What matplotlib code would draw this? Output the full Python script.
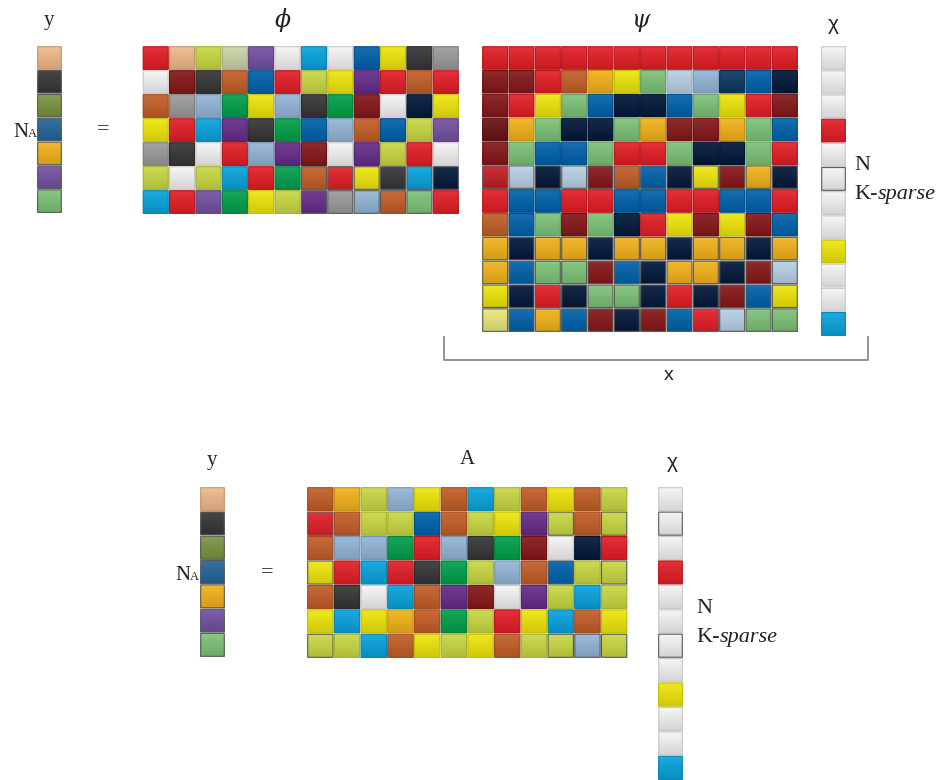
import matplotlib.pyplot as plt
import numpy as np
from matplotlib.colors import to_rgb
from matplotlib.collections import PolyCollection

# colour codes used in the cell tables below
COLORS = {
    'R': '#E41E26', 'r': '#C41E25', 'W': '#F4F4F4', 'K': '#363636',
    'C': '#08A3DD', 'P': '#7451A1', 'Q': '#652C8A', 'L': '#C9D842',
    'Y': '#EFE60A', 'O': '#F2B21A', 'B': '#C35E27', 'D': '#861719',
    'd': '#6A1212', 'N': '#02183A', 'U': '#0062AB', 'S': '#93B6D8',
    'Z': '#B8D1E6', 'X': '#0B3A60', 'M': '#E9E97A', 'G': '#00A04A',
    'H': '#7DC377', 'A': '#9B9B9B', 'F': '#EFB98A', 'E': '#C8D4A6',
    'T': '#7A9441', 'V': '#23659A',
}

Y_CELLS = ['F', 'K', 'T', 'V', 'O', 'P', 'H']

PHI_ROWS = [
    'RFLEPWCWUYKA',
    'WDKBURLYQRBR',
    'BASGYSKGDWNY',
    'YRCQKGUSBULP',
    'AKWRSQDWQLRW',
    'LWLCRGBRYKCN',
    'CRPGYLQASBHR',
]

PSI_ROWS = [
    'RRRRRRRRRRRR',
    'DDRBOYHZSXUN',
    'DRYHUNNUHYRD',
    'dOHNNHODDOHU',
    'DHUUHRRHNNHR',
    'rZNZDBUNYDON',
    'RUURRUURRUUR',
    'BUHDHNRYDYDU',
    'ONOONOONOONO',
    'OUHHDUNOONDZ',
    'YNRNHHNRNDUY',
    'MUOUDNDURZHH',
]

CHI_TOP = ['W', 'W', 'W', 'R', 'W', 'W', 'W', 'W', 'Y', 'W', 'W', 'C']

A_ROWS = [
    'BOLSYBCLBYBL',
    'RBLLUBLYQLBL',
    'BSSGRSKGDWNR',
    'YRCRKGLSBULL',
    'BKWCBQDWQLCL',
    'YCYOBGLRYCBY',
    'LLCBYLYBLLSL',
]

CHI_BOTTOM = ['W', 'W', 'W', 'R', 'W', 'W', 'W', 'W', 'Y', 'W', 'W', 'C']

# cells drawn with a dark grey outline
PHI_DARK = {(5, j) for j in range(6, 12)} | {(6, j) for j in range(6, 11)}
PSI_DARK = {(i, j) for i in (5, 8, 9, 10, 11) for j in range(12)}
A_DARK = {(1, 0), (1, 9), (1, 11), (3, 0), (3, 9), (3, 11),
          (6, 0), (6, 9), (6, 10), (6, 11)}
Y_DARK = {(i, 0) for i in range(1, 7)}

SERIF = 'Liberation Serif'
SANS = 'Liberation Sans'
INK = '#222222'
BANDS = 8


def _draw_matrix(ax, rows, x0, y0, x1, y1, dark=()):
    n_rows, n_cols = len(rows), len(rows[0])
    cw = (x1 - x0) / n_cols
    ch = (y1 - y0) / n_rows
    g = 1.4
    band_polys, band_colors = [], []
    edge_polys, edge_colors = [], []
    for i, row in enumerate(rows):
        for j, code in enumerate(row):
            c = np.array(to_rgb(COLORS[code]))
            top = c + (1 - c) * 0.08
            bottom = c * 0.87
            left = x0 + j * cw + g / 2
            right = x0 + (j + 1) * cw - g / 2
            ya = y0 + i * ch + g / 2
            yb = y0 + (i + 1) * ch - g / 2
            starts = np.linspace(ya, yb, BANDS + 1)[:-1]
            # each band runs to the cell bottom, later ones cover the lower part
            for k, s in enumerate(starts):
                t = (k + 0.5) / BANDS
                band_polys.append([(left, s), (right, s), (right, yb), (left, yb)])
                band_colors.append(tuple(top * (1 - t) + bottom * t))
            edge_polys.append([(left, ya), (right, ya), (right, yb), (left, yb)])
            edge_colors.append('#5a5a5a' if (i, j) in dark else tuple(c * 0.82))
    bands = PolyCollection(band_polys, facecolors=band_colors,
                           edgecolors='none', linewidths=0, zorder=1)
    outlines = PolyCollection(edge_polys, facecolors='none',
                              edgecolors=edge_colors, linewidths=0.8, zorder=2)
    bands.set_snap(False)
    outlines.set_snap(False)
    ax.add_collection(bands)
    ax.add_collection(outlines)


def _label_na(ax, x, y):
    ax.text(x, y, 'N', ha='right', va='baseline', fontsize=15, family=SERIF, color=INK)
    ax.text(x, y, 'A', ha='left', va='baseline', fontsize=9, family=SERIF, color=INK)


def _label_sparse(fig, ax, x, y):
    t = ax.text(x, y, 'K-', ha='left', va='baseline', fontsize=16, family=SERIF, color=INK)
    fig.canvas.draw()
    bb = t.get_window_extent(renderer=fig.canvas.get_renderer())
    x_end = ax.transData.inverted().transform((bb.x1, bb.y0))[0]
    ax.text(x_end + 0.5, y, 'sparse', ha='left', va='baseline', fontsize=16,
            family=SERIF, style='italic', color=INK)


if __name__ == '__main__':
    fig = plt.figure(figsize=(9.43, 7.80), dpi=100)
    ax = fig.add_axes([0, 0, 1, 1])
    ax.set_xlim(0, 943)
    ax.set_ylim(780, 0)
    ax.axis('off')

    # top equation: y = phi psi chi
    _draw_matrix(ax, [[c] for c in Y_CELLS], 37, 46, 62, 213, Y_DARK)
    _draw_matrix(ax, PHI_ROWS, 142.5, 46, 459, 214, PHI_DARK)
    _draw_matrix(ax, PSI_ROWS, 482, 46, 798, 332, PSI_DARK)
    _draw_matrix(ax, [[c] for c in CHI_TOP], 821, 46, 846, 336, {(5, 0)})

    ax.plot([444, 444, 868, 868], [337, 360, 360, 337], color='#8a8a8a', lw=1.3)

    ax.text(49, 25, 'y', ha='center', va='baseline', fontsize=15, family=SERIF, color=INK)
    ax.text(283, 20, 'ϕ', ha='center', va='center', fontsize=17,
            family=['DejaVu Serif'], style='italic', color=INK)
    ax.text(641, 20, 'ψ', ha='center', va='center', fontsize=17,
            family=['DejaVu Serif'], style='italic', color=INK)
    ax.text(833, 24, 'χ', ha='center', va='center', fontsize=15, family=SANS, color=INK)
    ax.text(669, 376, 'x', ha='center', va='center', fontsize=14, family=SANS, color=INK)
    _label_na(ax, 28, 137)
    ax.text(103, 130, '=', ha='center', va='center', fontsize=16, family=SERIF, color=INK)
    ax.text(854, 170, 'N', ha='left', va='baseline', fontsize=16, family=SERIF, color=INK)
    _label_sparse(fig, ax, 854, 199)

    # bottom equation: y = A chi
    _draw_matrix(ax, [[c] for c in Y_CELLS], 200, 487, 225, 657, Y_DARK)
    _draw_matrix(ax, A_ROWS, 307, 487, 627.5, 658, A_DARK)
    _draw_matrix(ax, [[c] for c in CHI_BOTTOM], 658, 487, 683, 780, {(1, 0), (6, 0)})

    ax.text(212, 465, 'y', ha='center', va='baseline', fontsize=15, family=SERIF, color=INK)
    ax.text(467, 464, 'A', ha='center', va='baseline', fontsize=15, family=SERIF, color=INK)
    ax.text(672, 463, 'χ', ha='center', va='center', fontsize=15, family=SANS, color=INK)
    _label_na(ax, 190, 580)
    ax.text(267, 573, '=', ha='center', va='center', fontsize=16, family=SERIF, color=INK)
    ax.text(696, 613, 'N', ha='left', va='baseline', fontsize=16, family=SERIF, color=INK)
    _label_sparse(fig, ax, 696, 642)

    fig.savefig('out.png', dpi=100)
